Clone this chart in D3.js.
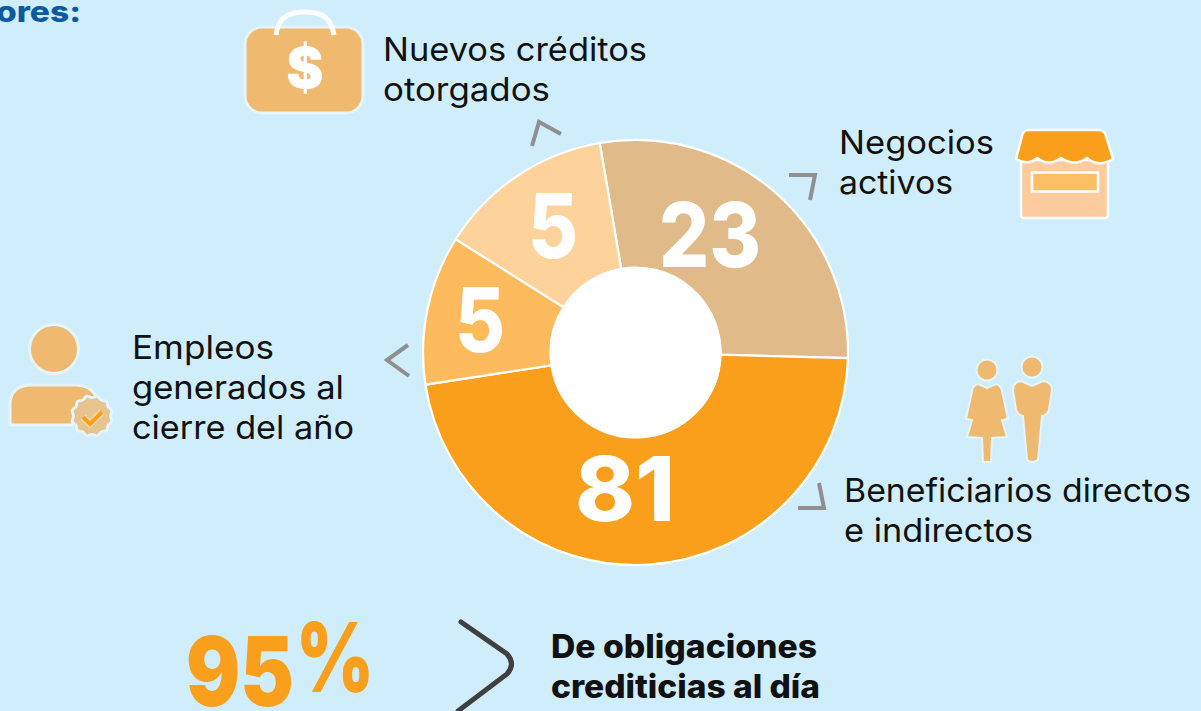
<!DOCTYPE html>
<html><head><meta charset="utf-8">
<script src="https://cdn.jsdelivr.net/npm/d3@7"></script>
<style>html,body{margin:0;padding:0;background:#d0edfc;overflow:hidden}svg{display:block}</style>
</head><body><script>
const categories = ["Negocios activos","Beneficiarios directos e indirectos","Empleos generados al cierre del año","Nuevos créditos otorgados"];
const valueLabels = [23,81,5,5];
const sliceDegrees = [101.2,169.8,40.9,48.1];
const sliceColors = ["#e0bb89","#f99f1c","#fdbb5d","#fed29b"];
const captionLines = [["Nuevos créditos","otorgados"],["Negocios","activos"],["Empleos","generados al","cierre del año"],["Beneficiarios directos","e indirectos"]];
const boldLines = ["De obligaciones","crediticias al día"];

const captionLayout = [
 {x:383,y:61,w:[264,167]},
 {x:839,y:154,w:[155,114]},
 {x:132,y:359,w:[142,212,222]},
 {x:844,y:502,w:[347,189]}
];
const FONT="Inter, 'Open Sans', sans-serif";
const W=1201,H=711,cx=635.5,cy=352.5;
const svg=d3.select("body").append("svg").attr("width",W).attr("height",H);
svg.append("rect").attr("width",W).attr("height",H).attr("fill","#d0edfc");

const pie=d3.pie().sort(null).value(d=>d).startAngle(-9.7*Math.PI/180).endAngle((360-9.7)*Math.PI/180);
const arcs=pie(sliceDegrees);
const arc=d3.arc().innerRadius(85).outerRadius(212.5);
const g=svg.append("g").attr("transform",`translate(${cx},${cy})`);
g.selectAll("path").data(arcs).join("path").attr("d",arc).attr("fill",(d,i)=>sliceColors[i]).attr("stroke","#fff").attr("stroke-width",2.2);
g.append("circle").attr("cx",1).attr("cy",0.5).attr("r",85).attr("fill","#fff");
const labelPos=[[710,267,102],[625,521,100],[480,352,50],[553,258,50]];
svg.append("g").selectAll("text").data(valueLabels).join("text").text(d=>d)
 .attr("x",(d,i)=>labelPos[i][0]-labelPos[i][2]/2).attr("y",(d,i)=>labelPos[i][1])
 .attr("textLength",(d,i)=>labelPos[i][2]).attr("lengthAdjust","spacingAndGlyphs")
 .attr("fill","#fff").attr("font-family",FONT).attr("font-weight",800).attr("font-size",90);

captionLines.forEach((lines,k)=>lines.forEach((l,i)=>{const c=captionLayout[k];svg.append("text").text(l).attr("x",c.x).attr("y",c.y+i*40)
 .attr("textLength",c.w[i]).attr("lengthAdjust","spacingAndGlyphs")
 .attr("font-family",FONT).attr("font-size",33).attr("fill","#111")}));

svg.append("text").text("ores:").attr("x",-4).attr("y",22).attr("textLength",85).attr("lengthAdjust","spacingAndGlyphs").attr("font-family",FONT).attr("font-weight",800).attr("font-size",29).attr("fill","#0b5aa0");
const big=svg.append("text").attr("font-family",FONT).attr("font-weight",900).attr("font-size",96).attr("fill","#f99f1c");
big.append("tspan").text("95").attr("x",186).attr("y",706).attr("textLength",108).attr("lengthAdjust","spacingAndGlyphs");
big.append("tspan").text("%").attr("x",296).attr("y",692).attr("textLength",78).attr("lengthAdjust","spacingAndGlyphs");
const boldW=[266,269];
boldLines.forEach((l,i)=>svg.append("text").text(l).attr("x",551).attr("y",658+i*40)
 .attr("textLength",boldW[i]).attr("lengthAdjust","spacingAndGlyphs")
 .attr("font-family",FONT).attr("font-weight",800).attr("font-size",32).attr("fill","#111"));

// chevrons
const gray="#8f8f8f";
["M532,146L539,122L561,134","M789,175L815,175L810,200","M408,345L387,360L409,376","M798,508L824,508L819,483"]
 .forEach(d=>svg.append("path").attr("d",d).attr("fill","none").attr("stroke",gray).attr("stroke-width",4));
svg.append("path").attr("d","M461,622L507,654Q516,664 507,674L458,711").attr("fill","none").attr("stroke","#3f3f3f").attr("stroke-width",5).attr("stroke-linecap","round");

const tan="#efb970",halo="#e4f5fd";
// bag
svg.append("rect").attr("x",245).attr("y",27).attr("width",118).attr("height",86).attr("rx",17).attr("fill",tan).attr("stroke",halo).attr("stroke-width",3);
svg.append("path").attr("d","M276,35C278,16 290,12 305,12C320,12 331,16 334,35").attr("fill","none").attr("stroke","#fff").attr("stroke-width",5);
svg.append("text").text("$").attr("x",305).attr("y",88).attr("text-anchor","middle").attr("font-family",FONT).attr("font-weight",900).attr("font-size",56).attr("fill","#fff");

// shop
svg.append("rect").attr("x",1021).attr("y",160).attr("width",87).attr("height",58).attr("rx",3).attr("fill","#fdcb9e").attr("stroke","#fff").attr("stroke-width",2.5);
svg.append("rect").attr("x",1032).attr("y",172.5).attr("width",66).attr("height",19).attr("fill","#fdbf66").attr("stroke","#fff").attr("stroke-width",2.5);
svg.append("path").attr("d","M1027,130L1100,130Q1105,131 1106,136L1113,159Q1098,168 1087,158Q1075,167 1061,158Q1049,167 1037,158Q1028,166 1016,159L1022,136Q1023,131 1027,130Z").attr("fill","#f99f1c").attr("stroke","#fff").attr("stroke-width",2.5);

// person with scalloped badge
svg.append("circle").attr("cx",54).attr("cy",349).attr("r",24.5).attr("fill",tan).attr("stroke",halo).attr("stroke-width",3);
svg.append("path").attr("d","M10,425L10,405Q10,385 32,385L76,385Q90,385 96,396L72,425Z").attr("fill",tan).attr("stroke",halo).attr("stroke-width",3);
const scallop=d3.lineRadial().curve(d3.curveCardinalClosed).angle(i=>i*Math.PI/12).radius(i=>i%2?20.5:18.5);
svg.append("path").attr("transform","translate(92,416)").attr("d",scallop(d3.range(24))).attr("fill","#e7c38f").attr("stroke",halo).attr("stroke-width",3);
svg.append("path").attr("d","M83,417L90,424L102,412").attr("fill","none").attr("stroke","#f3d9ae").attr("stroke-width",7);
svg.append("path").attr("d","M83,417L90,424L102,412").attr("fill","none").attr("stroke","#f99f1c").attr("stroke-width",4);

// people
svg.append("circle").attr("cx",987).attr("cy",370).attr("r",10.5).attr("fill",tan).attr("stroke",halo).attr("stroke-width",2);
svg.append("path").attr("d","M978,384L987,388L996,384Q1001,385 1002,391L1008,419L1002,420L1007,437L992,438L991,462L983,462L982,438L967,437L972,420L966,419L972,391Q973,385 978,384Z").attr("fill",tan).attr("stroke",halo).attr("stroke-width",2);
svg.append("circle").attr("cx",1032).attr("cy",367).attr("r",10.5).attr("fill",tan).attr("stroke",halo).attr("stroke-width",2);
svg.append("path").attr("d","M1021,381L1032,386L1043,381Q1052,382 1052,390L1049,410Q1047,415 1042,416L1038,460Q1032,464 1027,460L1023,416Q1018,415 1016,410L1013,390Q1013,382 1021,381Z").attr("fill",tan).attr("stroke",halo).attr("stroke-width",2);
</script></body></html>
